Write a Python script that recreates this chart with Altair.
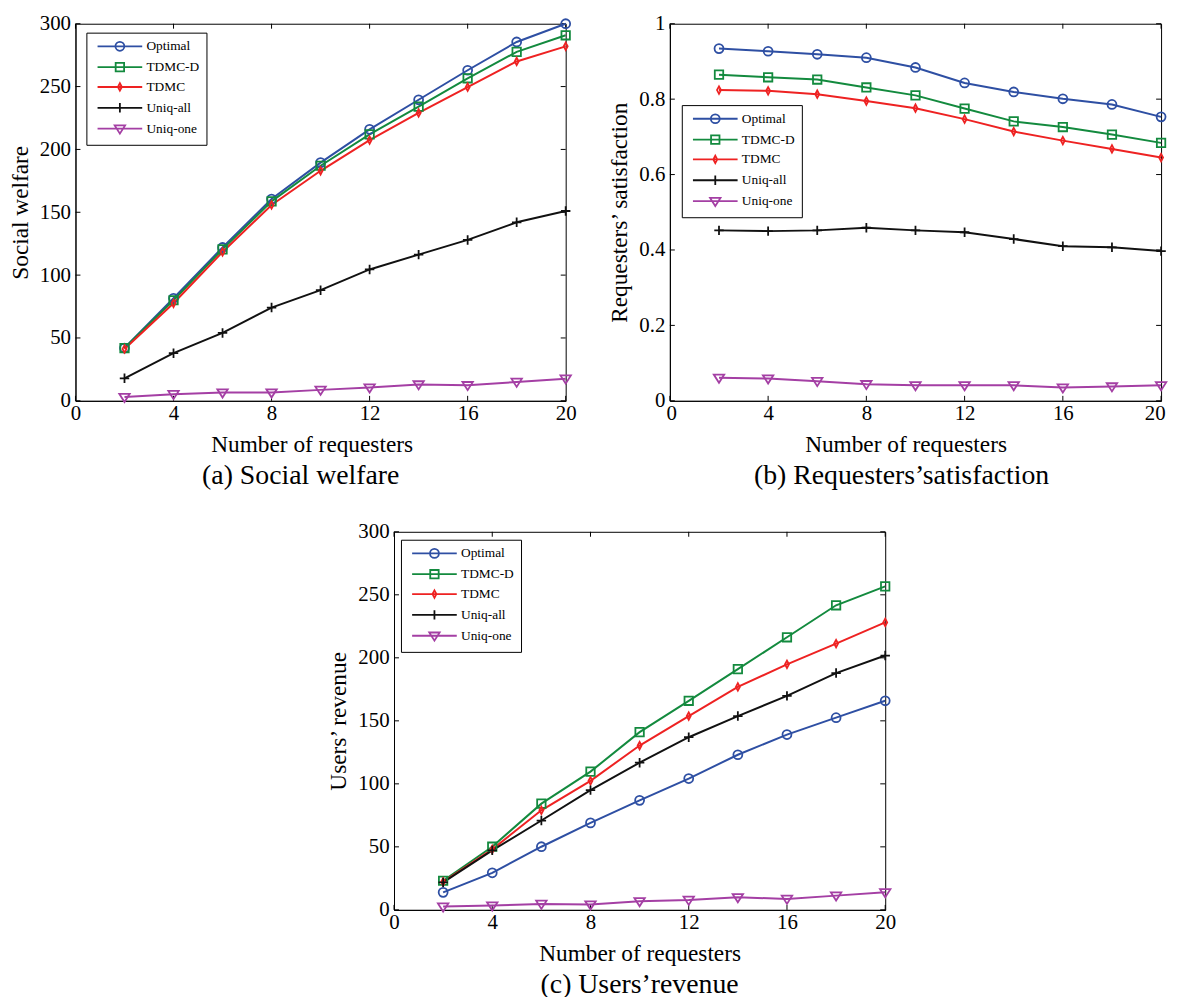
import altair as alt
import pandas as pd

x_vals = [2, 4, 6, 8, 10, 12, 14, 16, 18, 20]
series = ["Optimal", "TDMC-D", "TDMC", "Uniq-all", "Uniq-one"]
colors = ["#2E4FA3", "#138A3E", "#EE2222", "#111111", "#A43FA4"]

# (a) Social welfare
sw_optimal = [42, 81.6, 122, 160.5, 189.5, 216, 239.5, 263, 285.5, 300]
sw_tdmcd = [42, 80, 120.5, 158.7, 187, 212, 234, 256.6, 277.6, 290.8]
sw_tdmc = [41.3, 77.6, 118.4, 155.8, 183, 207.4, 229, 249.5, 270, 282]
sw_uall = [17.9, 37.9, 54, 74.2, 88, 104.5, 116.3, 128, 142, 151]
sw_uone = [3, 5.3, 6.6, 6.6, 8.7, 10.5, 13, 12.4, 15, 17.6]

# (b) Requesters' satisfaction
rs_optimal = [0.934, 0.927, 0.919, 0.910, 0.884, 0.843, 0.819, 0.801, 0.786, 0.753]
rs_tdmcd = [0.865, 0.858, 0.852, 0.831, 0.810, 0.775, 0.741, 0.726, 0.706, 0.684]
rs_tdmc = [0.824, 0.822, 0.813, 0.795, 0.776, 0.747, 0.714, 0.690, 0.668, 0.645]
rs_uall = [0.452, 0.450, 0.452, 0.459, 0.452, 0.447, 0.429, 0.410, 0.407, 0.397]
rs_uone = [0.061, 0.059, 0.052, 0.044, 0.041, 0.041, 0.041, 0.035, 0.038, 0.041]

# (c) Users' revenue
ur_optimal = [13.9, 29.4, 50.1, 69, 86.9, 104.2, 123.1, 139.1, 152.5, 165.9]
ur_tdmcd = [23.1, 50.1, 84.3, 109.7, 141, 165.9, 191, 216.3, 241.7, 256.7]
ur_tdmc = [22.3, 48, 79, 102.4, 130.4, 153.8, 176.9, 194.8, 211.3, 228.1]
ur_uall = [21.8, 47.2, 70.9, 95, 116.8, 137, 153.8, 169.8, 187.9, 201.8]
ur_uone = [2.6, 3.4, 4.7, 4.2, 6.8, 7.9, 10, 8.7, 11.3, 13.9]

x_ticks = [0, 4, 8, 12, 16, 20]
y_ticks_a = [0, 50, 100, 150, 200, 250, 300]
y_ticks_b = [0, 0.2, 0.4, 0.6, 0.8, 1]
y_ticks_c = [0, 50, 100, 150, 200, 250, 300]

FONT = "Liberation Serif"

# marker shapes (unit square -1..1)
M_CIRCLE = "M0.9,0A0.9,0.9 0 1,1 -0.9,0A0.9,0.9 0 1,1 0.9,0Z"
M_SQUARE = "M-0.85,-0.85H0.85V0.85H-0.85Z"
M_DIAM = "M0,-0.75L0.4,0L0,0.75L-0.4,0Z"
M_CROSS = "M0,-0.95V0.95M-0.95,0H0.95"
M_TRI = "M-1.05,-0.65H1.05L0,1.0Z"
plot_shapes = [M_CIRCLE, M_SQUARE, M_DIAM, M_CROSS, M_TRI]
LINE = "M-4.5,0H4.5"
legend_shapes = [LINE + s for s in plot_shapes]


def panel(vals, ytitle, ydomain, yticks, caption, lx, ly, W, H, cdx, tdx, flush):
    rows = []
    for s, arr in zip(series, vals):
        for xv, yv in zip(x_vals, arr):
            rows.append({"x": xv, "y": yv, "series": s})
    df = pd.DataFrame(rows)
    xscale = alt.Scale(domain=[0, 20], nice=False, zero=False)
    yscale = alt.Scale(domain=ydomain, nice=False, zero=False)
    cscale = alt.Scale(domain=series, range=colors)
    if flush:
        xflush = dict(labelFlush=True, labelFlushOffset=4)
    else:
        xflush = dict(labelFlush=False)
    xaxis = alt.Axis(values=x_ticks, title="Number of requesters",
                     labelPadding=2, titlePadding=9, titleX=W / 2 + tdx, **xflush)
    yaxis = alt.Axis(values=yticks, title=ytitle, format="~r", labelFlush=False,
                     labelPadding=5, titlePadding=7)

    xt = pd.DataFrame({"t": x_ticks})
    yt = pd.DataFrame({"t": yticks})
    rule = dict(color="black", strokeWidth=1)
    tb = alt.Chart(xt).mark_rule(**rule).encode(
        x=alt.X("t:Q", scale=xscale, axis=xaxis), y=alt.value(H), y2=alt.value(H - 5))
    tt = alt.Chart(xt).mark_rule(**rule).encode(
        x=alt.X("t:Q", scale=xscale, axis=xaxis), y=alt.value(0), y2=alt.value(5))
    tl = alt.Chart(yt).mark_rule(**rule).encode(
        y=alt.Y("t:Q", scale=yscale, axis=yaxis), x=alt.value(0), x2=alt.value(5))
    tr = alt.Chart(yt).mark_rule(**rule).encode(
        y=alt.Y("t:Q", scale=yscale, axis=yaxis), x=alt.value(W), x2=alt.value(W - 5))

    base = alt.Chart(df)
    xenc = alt.X("x:Q", scale=xscale, axis=xaxis)
    yenc = alt.Y("y:Q", scale=yscale, axis=yaxis)
    lines = base.mark_line(strokeWidth=2).encode(
        x=xenc, y=yenc,
        color=alt.Color("series:N", scale=cscale, legend=None),
    )
    points = base.mark_point(filled=False, strokeWidth=1.8, size=100, opacity=1).encode(
        x=xenc, y=yenc,
        color=alt.Color("series:N", scale=cscale, legend=None),
        shape=alt.Shape("series:N", scale=alt.Scale(domain=series, range=plot_shapes), legend=None),
    )
    leg = dict(title=None, orient="none", legendX=lx, legendY=ly, symbolSize=100,
               symbolOffset=20, symbolStrokeWidth=1.8, labelFont=FONT, labelFontSize=13.5,
               labelOffset=20, labelColor="black", strokeColor="black", fillColor="white",
               padding=7, rowPadding=4, cornerRadius=0)
    legl = base.transform_filter("false").mark_point(
        filled=False, strokeWidth=1.8, size=100, opacity=1).encode(
        color=alt.Color("series:N", scale=cscale, legend=alt.Legend(**leg)),
        shape=alt.Shape("series:N", scale=alt.Scale(domain=series, range=legend_shapes),
                        legend=alt.Legend(**leg)),
    )
    return alt.layer(tb, tt, tl, tr, lines, points, legl).resolve_scale(
        color="independent", shape="independent"
    ).properties(
        width=W, height=H,
        view=alt.ViewBackground(stroke="black", strokeWidth=1),
        title=alt.TitleParams(caption, orient="bottom", fontSize=28, font=FONT,
                              fontWeight="normal", color="black", offset=6,
                              anchor="middle", frame="group", dx=cdx),
    )


a = panel([sw_optimal, sw_tdmcd, sw_tdmc, sw_uall, sw_uone], "Social welfare",
          [0, 300], y_ticks_a, "(a) Social welfare", 11, 9, 494, 380, -20, -9, False)
b = panel([rs_optimal, rs_tdmcd, rs_tdmc, rs_uall, rs_uone], "Requesters\u2019 satisfaction",
          [0, 1], y_ticks_b, "(b) Requesters\u2019satisfaction", 12, 82, 495, 380, -14, -10, True)
c = panel([ur_optimal, ur_tdmcd, ur_tdmc, ur_uall, ur_uone], "Users\u2019 revenue",
          [0, 300], y_ticks_c, "(c) Users\u2019revenue", 7, 8, 495, 381, 0, 0, False)

spacer = alt.Chart(pd.DataFrame({"t": [0]})).mark_point(opacity=0).encode(
    x=alt.X("t:Q", axis=None), y=alt.Y("t:Q", axis=None)
).properties(width=252, height=10, view=alt.ViewBackground(stroke="transparent"))

chart = alt.vconcat(
    alt.hconcat(a, b, spacing=31),
    alt.hconcat(spacer, c, spacing=0),
    spacing=30,
).properties(
    padding={"left": 0, "top": 0, "right": 0, "bottom": 0},
    background="white",
).configure_view(
    stroke="black", strokeWidth=1
).configure_axis(
    labelFont=FONT, labelFontSize=21, labelColor="black",
    titleFont=FONT, titleFontSize=23.5, titleFontWeight="normal", titleColor="black",
    domainColor="black", domainWidth=1, ticks=False, grid=False,
)

chart.save("out.html", embed_options={"renderer": "svg", "actions": False})
